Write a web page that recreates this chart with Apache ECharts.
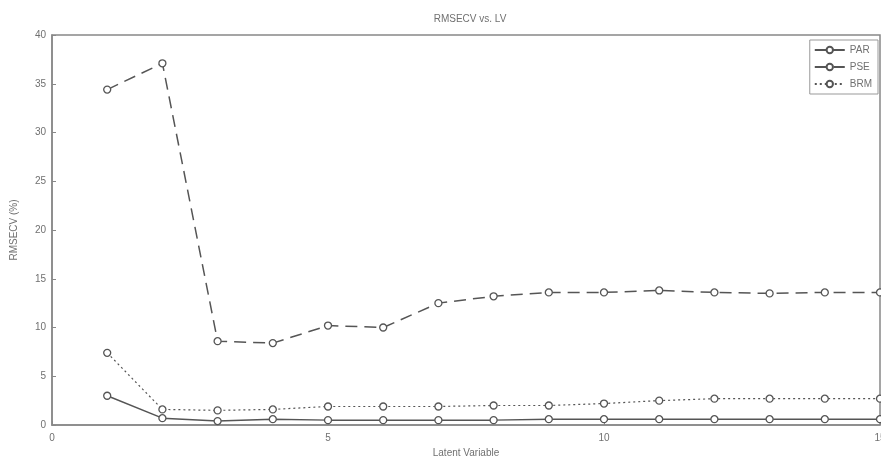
<!DOCTYPE html>
<html>
<head>
<meta charset="utf-8">
<script src="https://cdn.jsdelivr.net/npm/echarts@6/dist/echarts.min.js"></script>
<style>html,body{margin:0;padding:0;background:#fff;}#c{width:881px;height:459px;}</style>
</head>
<body>
<div id="c"></div>
<script>
var lv = [1,2,3,4,5,6,7,8,9,10,11,12,13,14,15];
var par = [3.0,0.7,0.4,0.6,0.5,0.5,0.5,0.5,0.6,0.6,0.6,0.6,0.6,0.6,0.6];
var pse = [34.4,37.1,8.6,8.4,10.2,10.0,12.5,13.2,13.6,13.6,13.8,13.6,13.5,13.6,13.6];
var brm = [7.4,1.6,1.5,1.6,1.9,1.9,1.9,2.0,2.0,2.2,2.5,2.7,2.7,2.7,2.7];
var yTicks = [0,5,10,15,20,25,30,35,40];
var xTicks = [0,5,10,15];

function pts(v){ return lv.map(function(x,i){ return [x, v[i]]; }); }
var chart = echarts.init(document.getElementById('c'), null, {renderer:'canvas'});
var txt = '#707070';
var lineCol = '#555';
function ser(name, data, type, width){
  return {
    name: name, type: 'line', data: pts(data),
    symbol: 'circle', symbolSize: 7,
    showAllSymbol: true,
    lineStyle: {color: lineCol, width: width, type: type},
    itemStyle: {color: '#fff', borderColor: lineCol, borderWidth: 1.3},
    emphasis: {disabled: true}, animation: false
  };
}
chart.setOption({
  animation: false,
  backgroundColor: '#fff',
  title: {text: 'RMSECV vs. LV', left: 465, top: 9, textAlign: 'center',
    textStyle: {fontFamily: 'Liberation Sans', fontSize: 10, fontWeight: 'normal', color: txt}},
  legend: {
    orient: 'vertical', right: 3, top: 40,
    data: ['PAR','PSE','BRM'],
    itemWidth: 30, itemHeight: 8, itemGap: 7,
    backgroundColor: '#fff', borderColor: '#999', borderWidth: 1,
    padding: [5, 6, 5, 4],
    textStyle: {fontFamily: 'Liberation Sans', fontSize: 10, color: txt}
  },
  grid: {left: 52, right: 1, top: 35, bottom: 34, show: true, borderColor: '#888', borderWidth: 1.5,
    outerBoundsMode: 'none', containLabel: false},
  xAxis: {
    type: 'value', min: 0, max: 15, interval: 5,
    name: 'Latent Variable', nameLocation: 'middle', nameGap: 22,
    nameTextStyle: {fontFamily: 'Liberation Sans', fontSize: 10, color: txt},
    axisLine: {lineStyle: {color: '#888', width: 1.5}},
    axisTick: {inside: true, length: 4, lineStyle: {color: '#888'}},
    axisLabel: {fontFamily: 'Liberation Sans', fontSize: 10, color: txt, margin: 8,
      formatter: function(v){ return xTicks.indexOf(v) >= 0 ? String(v) : ''; }},
    splitLine: {show: false}
  },
  yAxis: {
    type: 'value', min: 0, max: 40, interval: 5,
    name: 'RMSECV (%)', nameLocation: 'middle', nameGap: 33,
    nameTextStyle: {fontFamily: 'Liberation Sans', fontSize: 10, color: txt},
    axisLine: {lineStyle: {color: '#888', width: 1.5}},
    axisTick: {inside: true, length: 4, lineStyle: {color: '#888'}},
    axisLabel: {fontFamily: 'Liberation Sans', fontSize: 10, color: txt, margin: 6,
      formatter: function(v){ return yTicks.indexOf(v) >= 0 ? String(v) : ''; }},
    splitLine: {show: false}
  },
  series: [
    ser('PAR', par, 'solid', 1.5),
    ser('PSE', pse, [12, 7], 1.5),
    ser('BRM', brm, [2, 3], 1.2)
  ]
});
</script>
</body>
</html>
